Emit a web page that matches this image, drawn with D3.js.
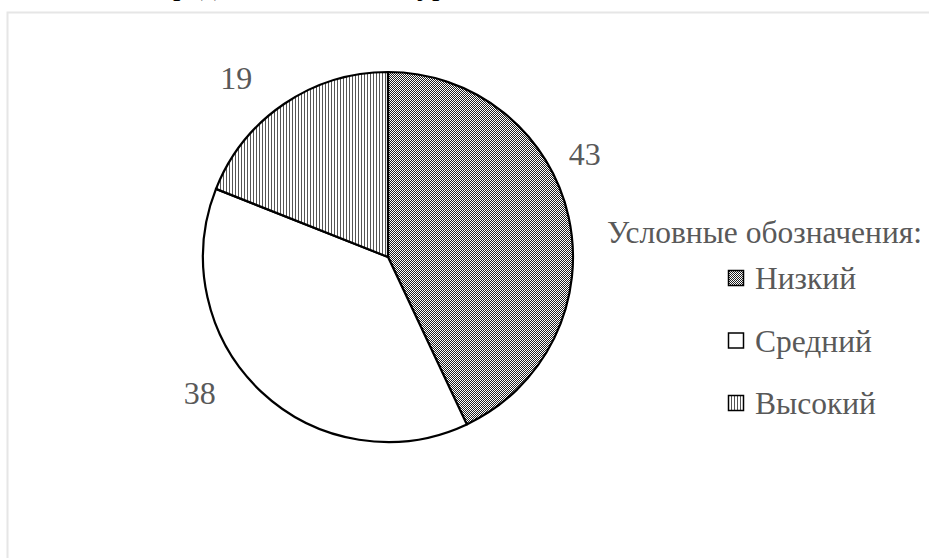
<!DOCTYPE html>
<html>
<head>
<meta charset="utf-8">
<script src="https://cdn.jsdelivr.net/npm/d3@7"></script>
<style>
  body{margin:0;background:#ffffff;}
  svg{display:block;}
  text{font-family:"Liberation Serif","DejaVu Serif",serif;}
</style>
</head>
<body>
<svg id="chart" width="929" height="558"></svg>
<script>
// data
var categories=["Низкий","Средний","Высокий"];
var values=[43,38,19];
var patterns=["patLow","patMid","patHigh"];
var legendTitle="Условные обозначения:";
var chartTitle="Средние показатели уровня";

var svg=d3.select("#chart");
var width=929, height=558;
var cx=388, cy=257, radius=185;
var textColor="#595959";

// patterns
var defs=svg.append("defs");

var p1=defs.append("pattern").attr("id","patLow")
    .attr("patternUnits","userSpaceOnUse").attr("width",4).attr("height",4);
p1.append("rect").attr("width",4).attr("height",4).attr("fill","#ffffff");
[[0,0],[1,1],[2,2],[3,3],[2,0],[3,1],[0,2],[1,3]].forEach(function(p){
    p1.append("rect").attr("x",p[0]).attr("y",p[1]).attr("width",1).attr("height",1).attr("fill","#222222");
});

var p2=defs.append("pattern").attr("id","patMid")
    .attr("patternUnits","userSpaceOnUse").attr("width",4).attr("height",4);
p2.append("rect").attr("width",4).attr("height",4).attr("fill","#ffffff");

var p3=defs.append("pattern").attr("id","patHigh")
    .attr("patternUnits","userSpaceOnUse").attr("width",3).attr("height",3);
p3.append("rect").attr("width",3).attr("height",3).attr("fill","#ffffff");
p3.append("rect").attr("x",0).attr("width",1).attr("height",3).attr("fill","#555555");

// title sits above the page, only its descenders reach the top edge
svg.append("text")
    .attr("x",153).attr("y",-5)
    .style("font-size","30px").style("fill","#000")
    .text(chartTitle);

// frame
svg.append("rect")
    .attr("x",7.5).attr("y",12.5)
    .attr("width",width+20).attr("height",height+20)
    .attr("fill","#ffffff").attr("stroke","#e6e6e6").attr("stroke-width",2);

// pie
var pie=d3.pie().sort(null).value(function(d){return d;});
var arc=d3.arc().innerRadius(0).outerRadius(radius);
var arcs=pie(values);

var g=svg.append("g").attr("transform","translate("+cx+","+cy+")");

g.selectAll(".slice").data(arcs).enter().append("path")
    .attr("class","slice")
    .attr("d",arc)
    .attr("fill",function(d,i){return "url(#"+patterns[i]+")";})
    .attr("stroke","#000000")
    .attr("stroke-width",2.2)
    .attr("stroke-linejoin","round");

// data labels, best-fit nudges
var labelShift=[-15,11,-6];
var labelRad=[222,232,235];
g.selectAll(".lbl").data(arcs).enter().append("text")
    .attr("class","lbl")
    .attr("transform",function(d,i){
        var a=(d.startAngle+d.endAngle)/2+labelShift[i]*Math.PI/180;
        var r=labelRad[i];
        return "translate("+(Math.sin(a)*r)+","+(-Math.cos(a)*r)+")";
    })
    .attr("dy","0.35em")
    .style("font-size","32px")
    .style("fill",textColor).style("text-anchor","middle")
    .text(function(d){return d.data;});

// legend
svg.append("text")
    .attr("x",607).attr("y",243)
    .style("font-size","31.5px")
    .style("fill",textColor)
    .text(legendTitle);

var ly=d3.scalePoint().domain(categories).range([278,403]);

var lg=svg.selectAll(".leg").data(categories).enter().append("g")
    .attr("class","leg")
    .attr("transform",function(d){return "translate(728,"+ly(d)+")";});

lg.append("rect")
    .attr("x",0.5).attr("y",-7.5).attr("width",15).attr("height",15)
    .attr("fill",function(d,i){return "url(#"+patterns[i]+")";})
    .attr("stroke","#000").attr("stroke-width",1.5);

lg.append("text")
    .attr("x",27).attr("y",11)
    .style("font-size","31.5px")
    .style("fill",textColor)
    .text(function(d){return d;});
</script>
</body>
</html>
